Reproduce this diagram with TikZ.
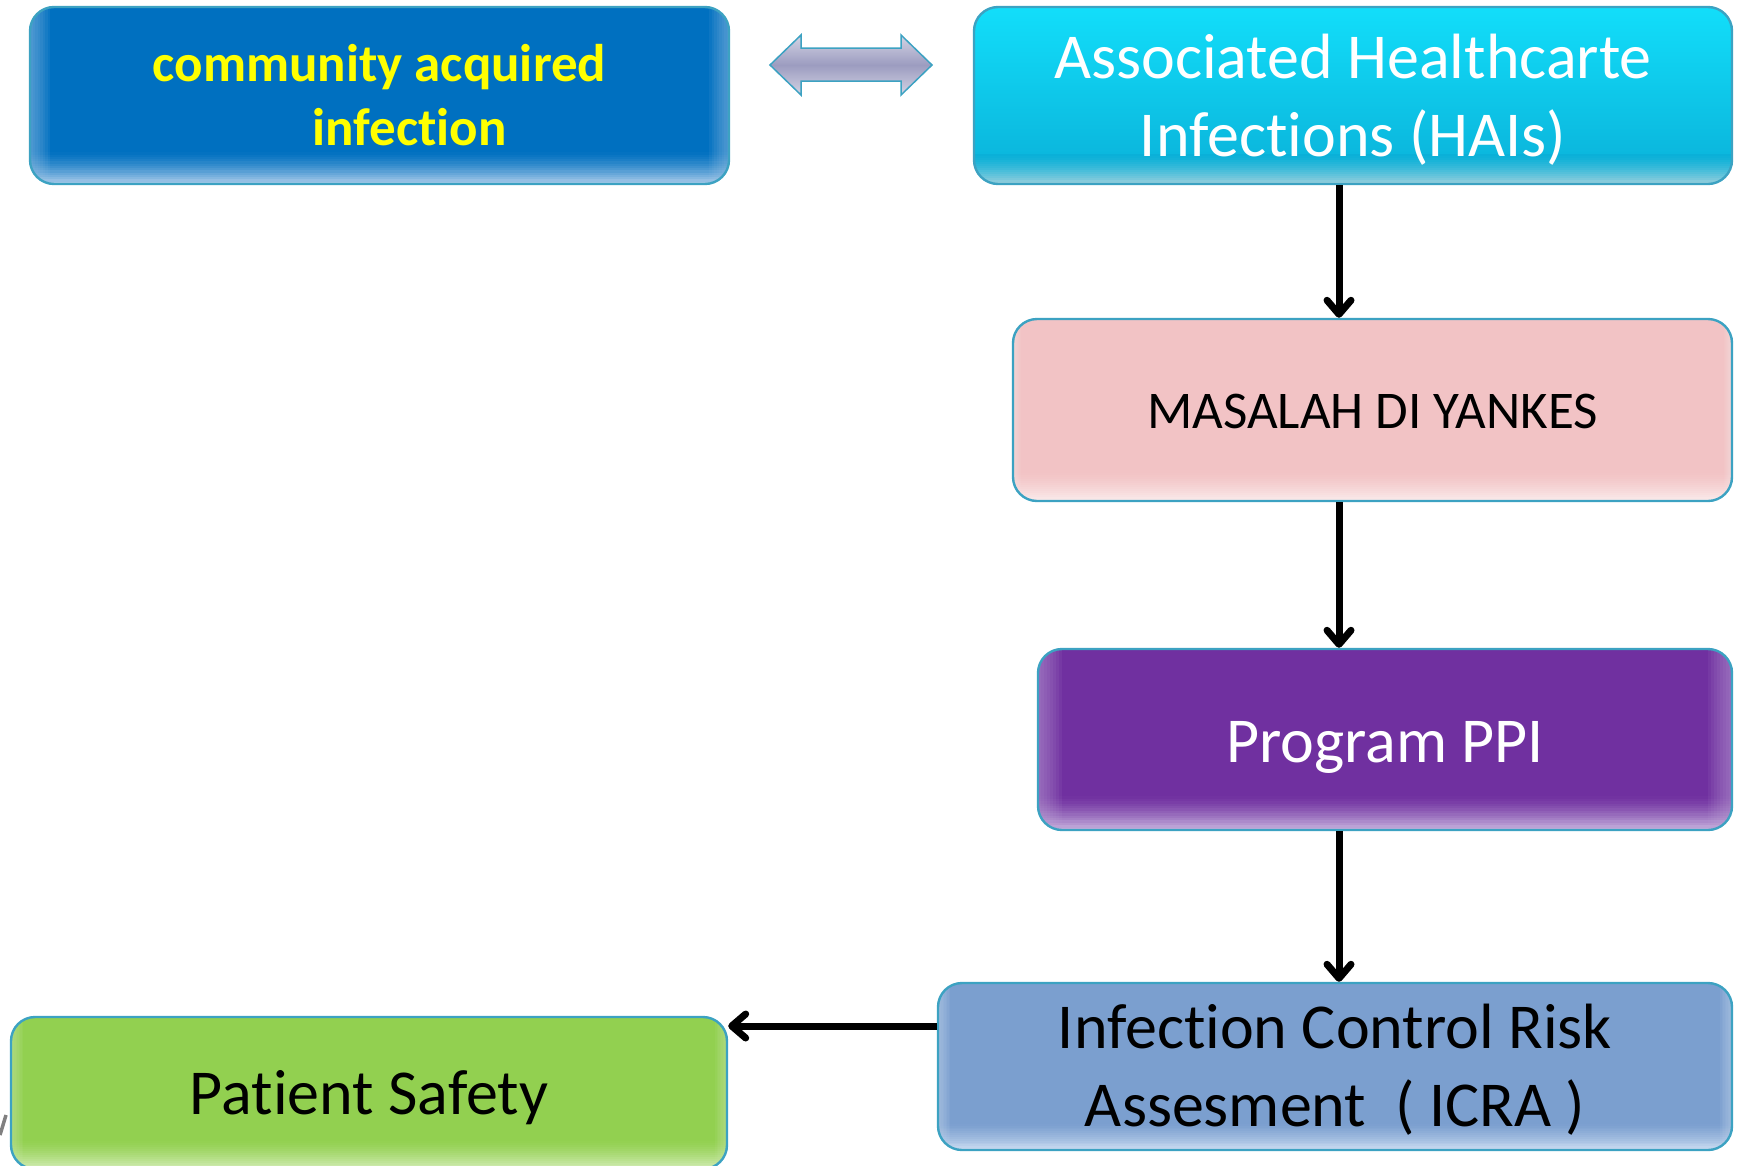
\documentclass[tikz,border=0pt]{standalone}
\usepackage{fontspec}
\setmainfont{Carlito}[Ligatures={NoCommon}]
\usetikzlibrary{arrows.meta}
\definecolor{bord}{HTML}{3CA2C2}
\definecolor{commC}{HTML}{0070C0}
\definecolor{commL}{HTML}{A4C8E8}
\definecolor{haiT}{HTML}{12DEFA}
\definecolor{haiM}{HTML}{0AB0D8}
\definecolor{haiL}{HTML}{94CEDC}
\definecolor{masC}{HTML}{F2C3C5}
\definecolor{masL}{HTML}{FAEAEA}
\definecolor{ppiC}{HTML}{7030A0}
\definecolor{ppiL}{HTML}{C4AEDC}
\definecolor{icraC}{HTML}{7B9FCF}
\definecolor{icraL}{HTML}{C8DAF0}
\definecolor{patC}{HTML}{92D050}
\definecolor{patL}{HTML}{D0EBB2}
\definecolor{lavD}{HTML}{9C9CC0}
\definecolor{lavL}{HTML}{D4D4E4}
\definecolor{txtY}{HTML}{FFFF00}
\begin{document}
\begin{tikzpicture}[x=1pt,y=-1pt,
  box/.style={draw=bord, line width=2.4pt, rounded corners=24pt, inner sep=0pt},
  glow/.style n args={4}{path picture={
     \foreach \i in {0,...,14}{
       \pgfmathsetmacro\pc{(\i/14)^1.4*100}
       \fill[#2!\pc!#1, sharp corners]
         ([yshift={#3-#3*\i/15}]path picture bounding box.south west) rectangle
         ([yshift={#3-#3*(\i+1)/15-0.5pt}]path picture bounding box.south east);
     }
     \foreach \i in {1,...,8}{
       \fill[#2, opacity=0.08, sharp corners]
         (path picture bounding box.south west) rectangle
         ([xshift={#4*\i/8}]path picture bounding box.north west);
       \fill[#2, opacity=0.08, sharp corners]
         (path picture bounding box.south east) rectangle
         ([xshift={-#4*\i/8}]path picture bounding box.north east);
     }}},
  txt/.style={inner sep=0pt, align=center},
  arr/.style={line width=7pt, -{Straight Barb[length=14pt,width=24pt,round]}},
  big/.style={font=\fontsize{64}{78}\selectfont}
]
\useasboundingbox (0,0) rectangle (1739,1165);

% boxes
\node[box, fill=commC, glow={commC}{commL}{34pt}{20pt}, minimum width=699pt, minimum height=177pt] (comm) at (379.5,95.5) {};
\node[box, top color=haiT, bottom color=haiM, glow={haiM}{haiL}{30pt}{0pt}, minimum width=758pt, minimum height=177pt] (hai) at (1353,95.5) {};
\node[box, fill=masC, glow={masC}{masL}{30pt}{8pt}, minimum width=719pt, minimum height=182pt] (mas) at (1372.5,410) {};
\node[box, fill=ppiC, glow={ppiC}{ppiL}{36pt}{24pt}, minimum width=694pt, minimum height=181pt] (ppi) at (1385,739.5) {};
\node[box, fill=icraC, glow={icraC}{icraL}{28pt}{12pt}, minimum width=794pt, minimum height=167pt] (icra) at (1335,1066.5) {};
\node[box, fill=patC, glow={patC}{patL}{30pt}{12pt}, minimum width=716pt, minimum height=152pt] (pat) at (369,1093) {};

% texts
\node[txt, font=\bfseries\fontsize{53}{64}\selectfont, text=txtY] (commT) at (comm.center)
  {community acquired\\\hspace*{60pt}infec\kern0pt tion};
\node[txt, big, text=white] (haiT) at ([yshift=-4.5pt]hai.center) {Associated Healthcarte\\Infec\kern0pt tions (HAIs)};
\node[txt, font=\fontsize{53}{64}\selectfont, text=black] (masT) at ([yshift=-1pt]mas.center) {MASALAH DI YANKES};
\node[txt, big, text=white] (ppiT) at ([yshift=-8pt]ppi.center) {Program PPI};
\node[txt, big, text=black] (icraT) at ([yshift=-3.5pt]icra.center) {Infec\kern0pt tion Control Risk\\Assesment~~( ICRA )};
\node[txt, big, text=black] (patT) at ([yshift=-4.5pt]pat.center) {Pat\kern0pt ient Safety};

% double arrow between top boxes
\draw[draw=bord, line width=1.5pt, top color=lavL, bottom color=lavL, middle color=lavD]
  (770,65) -- (801,35) -- (801,48) -- (901,48) -- (901,35) -- (932,65)
  -- (901,95) -- (901,81) -- (801,81) -- (801,95) -- cycle;

\coordinate (ax) at (1339,0);
\coordinate (ay) at (0,1026);
\draw[arr] (hai.south -| ax) -- (mas.north -| ax);
\draw[arr] (mas.south -| ax) -- (ppi.north -| ax);
\draw[arr] (ppi.south -| ax) -- (icra.north -| ax);
\draw[arr] (icra.west |- ay) -- (pat.east |- ay);

\draw[gray, line width=3.5pt] (0,1135) -- (6,1115);
\end{tikzpicture}
\end{document}
